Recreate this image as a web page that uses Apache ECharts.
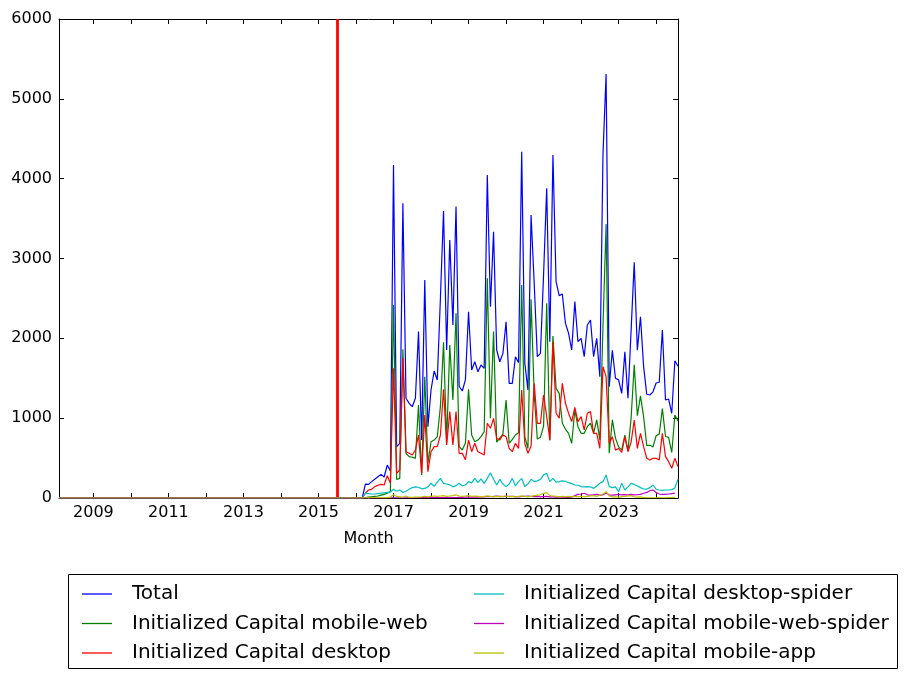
<!DOCTYPE html>
<html>
<head>
<meta charset="utf-8">
<script src="https://cdn.jsdelivr.net/npm/echarts@6/dist/echarts.min.js"></script>
<style>
  html, body { margin: 0; padding: 0; background: #fff; }
  #chart { width: 908px; height: 679px; }
</style>
</head>
<body>
<div id="chart"></div>
<script>
  // monthly data, Feb 2008 .. Aug 2024; every series is 0 before Apr 2016
  const firstYear = 2008;
  const firstMonth = 2;
  const zeroMonths = 98; // Feb 2008 .. Mar 2016
  const markerDate = 2015.5;

  const yearTicks = [2009, 2010, 2011, 2012, 2013, 2014, 2015, 2016, 2017, 2018, 2019, 2020, 2021, 2022, 2023, 2024];
  const yearLabels = [2009, 2011, 2013, 2015, 2017, 2019, 2021, 2023];

  // Apr 2016 .. Aug 2024
  const total = [
    175, 171, 205, 234, 265, 296, 263, 413, 338,
    4171, 643, 685, 3691, 1249, 1186, 1144, 1249, 2084, 726, 2731,
    893, 1353, 1591, 1478, 2500, 3595, 1854, 3232, 2167, 3650,
    1400, 1340, 1480, 2334, 1603, 1707, 1582, 1666, 1624, 4046,
    2396, 3336, 1854, 1707, 1812, 2208, 1436, 1436, 1770, 1696,
    4338, 1687, 1353, 3545, 2690, 1770, 1812, 2800, 3879, 1958,
    4296, 2710, 2535, 2556, 2188, 2063, 1854, 2460, 1958, 2000,
    1770, 2167, 2230, 1770, 2000, 1520, 4300, 5310, 1395, 1850,
    1500, 1480, 1310, 1830, 1250, 2100, 2952, 1850, 2271, 1645,
    1300, 1290, 1330, 1440, 1450, 2104, 1228, 1240, 1061, 1720, 1650
  ];
  const mobileWeb = [
    5, 10, 15, 20, 25, 35, 45, 60, 80,
    2418, 234, 246, 1862, 560, 518, 510, 497, 1165, 288, 1520,
    435, 705, 726, 768, 1144, 1950, 700, 1916, 1228, 2313,
    643, 601, 690, 1361, 789, 705, 726, 768, 830, 2752,
    1000, 2084, 700, 750, 800, 1228, 685, 735, 789, 818,
    2668, 768, 622, 2489, 1300, 740, 760, 900, 2439, 720,
    2029, 1374, 1311, 936, 861, 810, 685, 1102, 893, 810,
    810, 893, 936, 810, 978, 727, 2146, 3432, 560, 978,
    750, 640, 600, 789, 590, 1000, 1670, 1030, 1280, 1019,
    660, 660, 640, 780, 800, 1120, 770, 760, 570, 1040, 960
  ];
  const desktop = [
    59, 100, 109, 142, 160, 171, 163, 280, 184,
    1624, 309, 351, 1750, 580, 560, 539, 601, 789, 309, 1040,
    330, 580, 643, 643, 789, 1361, 664, 1082, 664, 1082,
    560, 560, 480, 726, 580, 685, 580, 560, 539, 936,
    873, 998, 747, 727, 789, 768, 622, 580, 685, 622,
    1353, 685, 560, 650, 1436, 936, 936, 1290, 1019, 726,
    1958, 1061, 1000, 1436, 1186, 1061, 957, 1136, 957, 1019,
    852, 1061, 1082, 810, 810, 622, 1645, 1520, 685, 768,
    600, 620, 570, 770, 580, 700, 977, 622, 810, 643,
    497, 476, 497, 497, 476, 810, 518, 455, 372, 497, 393
  ];
  const desktopSpider = [
    60, 55, 50, 50, 55, 60, 65, 70, 75,
    110, 85, 100, 70, 85, 110, 130, 140, 135, 115, 120,
    140, 185, 145, 200, 246, 184, 175, 165, 140, 155,
    184, 150, 163, 205, 190, 246, 192, 240, 184, 246,
    317, 234, 163, 234, 175, 142, 175, 246, 150, 205,
    246, 142, 175, 234, 205, 215, 234, 290, 309, 205,
    246, 200, 205, 215, 210, 192, 180, 163, 160, 142,
    140, 142, 140, 121, 150, 184, 205, 288, 142, 130,
    140, 80, 184, 100, 140, 184, 170, 150, 130, 113,
    110, 130, 163, 110, 100, 95, 100, 100, 105, 125, 234
  ];
  const mobileWebSpider = [
    0, 0, 0, 0, 0, 0, 0, 0, 2,
    3, 3, 3, 3, 3, 3, 3, 4, 4, 4,
    4, 5, 5, 5, 5, 5, 5, 6, 6, 6,
    6, 8, 8, 10, 10, 10, 12, 12, 15, 15,
    20, 18, 20, 25, 22, 18, 20, 22, 20, 18,
    15, 20, 22, 25, 20, 18, 20, 15, 18, 20,
    15, 15, 12, 10, 10, 8, 8, 10, 30, 46,
    50, 59, 40, 35, 40, 45, 35, 40, 59, 40,
    35, 40, 45, 40, 42, 40, 45, 40, 42, 45,
    60, 70, 92, 100, 70, 50, 45, 45, 50, 55, 60
  ];
  const mobileApp = [
    2, 2, 3, 3, 3, 4, 4, 5, 10,
    40, 20, 15, 10, 25, 10, 8, 10, 12, 15,
    20, 15, 20, 25, 20, 25, 30, 20, 25, 30,
    40, 25, 20, 25, 30, 20, 25, 20, 15, 20,
    25, 20, 15, 20, 15, 20, 25, 15, 20, 15,
    20, 25, 20, 15, 20, 30, 35, 40, 59, 67,
    30, 25, 20, 15, 20, 15, 20, 15, 20, 15,
    20, 15, 20, 25, 30, 20, 35, 50, 80, 25,
    15, 15, 10, 15, 20, 25, 30, 15, 10, 15,
    5, 5, 3, 3, 3, 5, 3, 3, 5, 5, 8
  ];

  const names = [
    'Total',
    'Initialized Capital mobile-web',
    'Initialized Capital desktop',
    'Initialized Capital desktop-spider',
    'Initialized Capital mobile-web-spider',
    'Initialized Capital mobile-app'
  ];
  const colors = ['#0000ff', '#008000', '#ff0000', '#00bfbf', '#bf00bf', '#bfbf00'];
  const values = [total, mobileWeb, desktop, desktopSpider, mobileWebSpider, mobileApp];

  const monthTime = k => firstYear + (firstMonth - 1 + k) / 12;
  const xMin = monthTime(0);
  const xMax = monthTime(zeroMonths + total.length - 1);

  const toPoints = arr => {
    const pts = [];
    for (let k = 0; k < zeroMonths; k++) pts.push([monthTime(k), 0]);
    arr.forEach((v, i) => pts.push([monthTime(zeroMonths + i), v]));
    return pts;
  };

  const font = 'DejaVu Sans';

  const series = values.map((arr, i) => ({
    name: names[i],
    type: 'line',
    data: toPoints(arr),
    symbol: 'none',
    lineStyle: { color: colors[i], width: 1.2 },
    itemStyle: { color: colors[i] },
    z: 2 + i
  }));
  series[0].markLine = {
    silent: true,
    symbol: 'none',
    animation: false,
    label: { show: false },
    lineStyle: { color: '#ff0000', width: 2.8, type: 'solid' },
    data: [{ xAxis: markerDate }]
  };

  const xBase = {
    type: 'value',
    min: xMin,
    max: xMax,
    splitLine: { show: false },
    axisLine: { onZero: false, lineStyle: { color: '#000', width: 1 } },
    axisTick: { inside: true, length: 5, customValues: yearTicks, lineStyle: { color: '#000' } }
  };
  const yBase = {
    type: 'value',
    min: 0,
    max: 6000,
    interval: 1000,
    splitLine: { show: false },
    axisLine: { show: true, lineStyle: { color: '#000', width: 1 } },
    axisTick: { show: true, inside: true, length: 5, lineStyle: { color: '#000' } }
  };

  const legendBase = {
    orient: 'vertical',
    icon: 'rect',
    itemWidth: 30,
    itemHeight: 1.3,
    itemGap: 7.5,
    padding: 0,
    selectedMode: false,
    textStyle: { fontFamily: font, fontSize: 20, color: '#000', lineHeight: 22, padding: [0, 0, 0, 15] }
  };

  const chart = echarts.init(document.getElementById('chart'));
  chart.setOption({
    animation: false,
    backgroundColor: '#fff',
    grid: { left: 59, right: 230, top: 19, bottom: 181 },
    xAxis: [
      Object.assign({}, xBase, {
        position: 'bottom',
        name: 'Month',
        nameLocation: 'middle',
        nameGap: 33,
        nameTextStyle: { fontFamily: font, fontSize: 16, color: '#000' },
        axisLabel: {
          customValues: yearLabels,
          formatter: v => String(v),
          fontFamily: font, fontSize: 16, color: '#000', margin: 7
        }
      }),
      Object.assign({}, xBase, { position: 'top', axisLabel: { show: false } })
    ],
    yAxis: [
      Object.assign({}, yBase, {
        position: 'left',
        axisLabel: { formatter: v => String(v), fontFamily: font, fontSize: 16, color: '#000', margin: 7 }
      }),
      Object.assign({}, yBase, { position: 'right', axisLabel: { show: false } })
    ],
    legend: [
      Object.assign({}, legendBase, { left: 82, top: 583, data: names.slice(0, 3) }),
      Object.assign({}, legendBase, { left: 474, top: 583, data: names.slice(3) })
    ],
    graphic: [{
      type: 'rect',
      shape: { x: 68.5, y: 574.5, width: 829, height: 94 },
      style: { fill: 'none', stroke: '#000', lineWidth: 1 },
      silent: true
    }],
    series: series
  });
</script>
</body>
</html>
